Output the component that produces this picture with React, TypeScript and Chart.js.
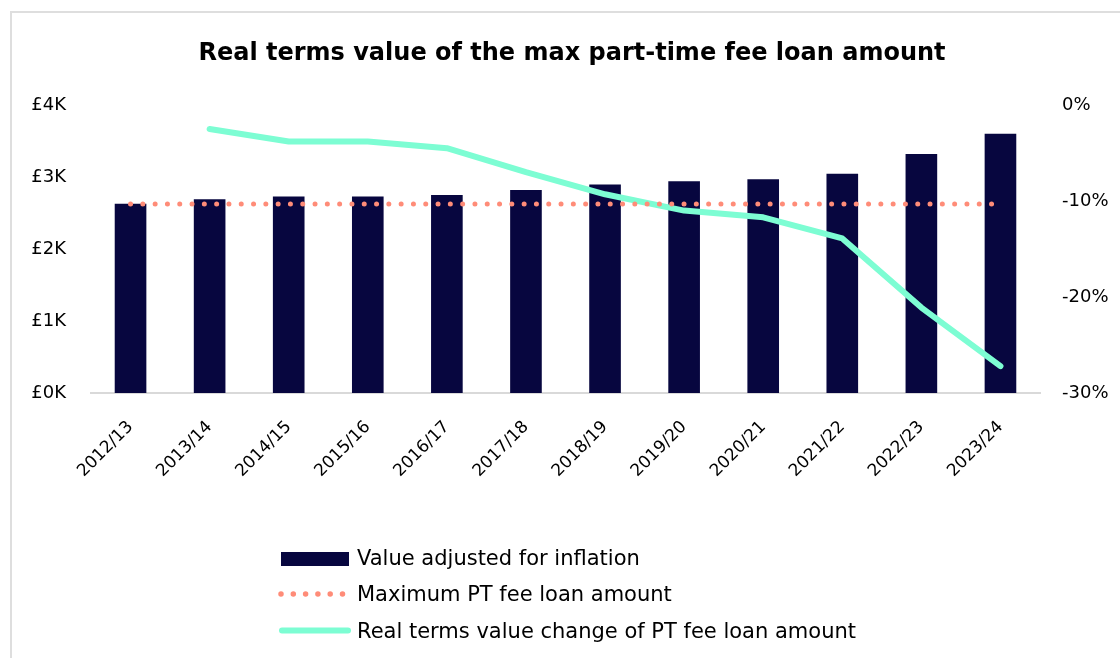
import React, { useEffect, useRef } from 'react';
import { Chart, registerables } from 'chart.js';

Chart.register(...registerables);

const categories = ['2012/13', '2013/14', '2014/15', '2015/16', '2016/17', '2017/18', '2018/19', '2019/20', '2020/21', '2021/22', '2022/23', '2023/24'];
const inflationAdjusted = [2630, 2690, 2730, 2730, 2750, 2820, 2895, 2940, 2970, 3045, 3320, 3600];
const maxPtLoan = [2625, 2625, 2625, 2625, 2625, 2625, 2625, 2625, 2625, 2625, 2625, 2625];
const realTermsChange = [null, -2.5, -3.8, -3.8, -4.5, -7.0, -9.3, -11.0, -11.7, -13.9, -21.1, -27.2];

const titleText = 'Real terms value of the max part-time fee loan amount';
const legendLabels = ['Value adjusted for inflation', 'Maximum PT fee loan amount', 'Real terms value change of PT fee loan amount'];

const NAVY = '#07063F';
const SALMON = '#FF8C78';
const MINT = '#7DFDD3';
const FONT = '"DejaVu Sans", sans-serif';

export default function App() {
  const ref = useRef<HTMLCanvasElement>(null);

  useEffect(() => {
    const chart = new Chart(ref.current as HTMLCanvasElement, {
      type: 'bar',
      data: {
        labels: categories,
        datasets: [
          {
            type: 'line',
            label: legendLabels[1],
            data: maxPtLoan,
            yAxisID: 'y',
            borderColor: SALMON,
            borderWidth: 5,
            borderDash: [0, 12.3],
            borderCapStyle: 'round',
            pointRadius: 0,
            fill: false,
            order: 0,
          } as any,
          {
            type: 'line',
            label: legendLabels[2],
            data: realTermsChange,
            yAxisID: 'y1',
            borderColor: MINT,
            borderWidth: 6,
            borderCapStyle: 'round',
            borderJoinStyle: 'round',
            pointRadius: 0,
            tension: 0,
            fill: false,
            order: 1,
          } as any,
          {
            type: 'bar',
            label: legendLabels[0],
            data: inflationAdjusted,
            yAxisID: 'y',
            backgroundColor: NAVY,
            barPercentage: 0.4,
            categoryPercentage: 1,
            order: 2,
          } as any,
        ],
      },
      options: {
        responsive: false,
        animation: false,
        layout: { padding: { left: 24, right: 0, top: 0, bottom: 165 } },
        plugins: {
          legend: { display: false },
          tooltip: { enabled: false },
          title: {
            display: true,
            text: titleText,
            color: '#000',
            font: { family: FONT, size: 24, weight: 'bold', lineHeight: 1.2 },
            padding: { top: 39, bottom: 37.2 },
          },
        },
        scales: {
          x: {
            grid: { display: false, drawTicks: false },
            border: { display: true, color: '#d9d9d9', width: 2 },
            ticks: {
              autoSkip: false,
              minRotation: 45,
              maxRotation: 45,
              padding: 24,
              color: '#000',
              font: { family: FONT, size: 17 },
            },
            afterFit: (s: any) => { s.height = 100; },
          },
          y: {
            position: 'left',
            min: 0,
            max: 4000,
            grid: { display: false, drawTicks: false },
            border: { display: false },
            ticks: {
              stepSize: 1000,
              padding: 25,
              color: '#000',
              font: { family: FONT, size: 18 },
              callback: (v: any) => '£' + Number(v) / 1000 + 'K',
            },
            afterFit: (s: any) => { s.width = 67; },
          },
          y1: {
            position: 'right',
            min: -30,
            max: 0,
            grid: { display: false, drawTicks: false },
            border: { display: false },
            ticks: {
              stepSize: 10,
              padding: 22,
              color: '#000',
              font: { family: FONT, size: 18 },
              callback: (v: any) => v + '%',
            },
            afterFit: (s: any) => { s.width = 80; },
          },
        },
      } as any,
    });
    return () => chart.destroy();
  }, []);

  const textStyle: React.CSSProperties = {
    position: 'absolute',
    left: 357,
    fontFamily: FONT,
    fontSize: 21,
    color: '#000',
    lineHeight: '24px',
    whiteSpace: 'nowrap',
  };

  return (
    <div style={{ position: 'absolute', left: 0, top: 0, width: 1120, height: 658, overflow: 'hidden', background: '#fff' }}>
      <div style={{ position: 'absolute', left: 10, top: 11, width: 1200, height: 800, border: '2px solid #dedede', boxSizing: 'border-box' }} />
      <canvas ref={ref} width={1120} height={658} style={{ position: 'absolute', left: 0, top: 0, display: 'block' }} />
      <svg width={1120} height={658} style={{ position: 'absolute', left: 0, top: 0, pointerEvents: 'none' }}>
        <rect x={281} y={552} width={68} height={14} fill={NAVY} />
        <line x1={281} y1={594} x2={343} y2={594} stroke={SALMON} strokeWidth={5.5} strokeLinecap="round" strokeDasharray="0 12.3" />
        <line x1={282} y1={630.5} x2={348} y2={630.5} stroke={MINT} strokeWidth={6} strokeLinecap="round" />
      </svg>
      <div style={{ ...textStyle, top: 545.5 }}>{legendLabels[0]}</div>
      <div style={{ ...textStyle, top: 582.3 }}>{legendLabels[1]}</div>
      <div style={{ ...textStyle, top: 619 }}>{legendLabels[2]}</div>
    </div>
  );
}
